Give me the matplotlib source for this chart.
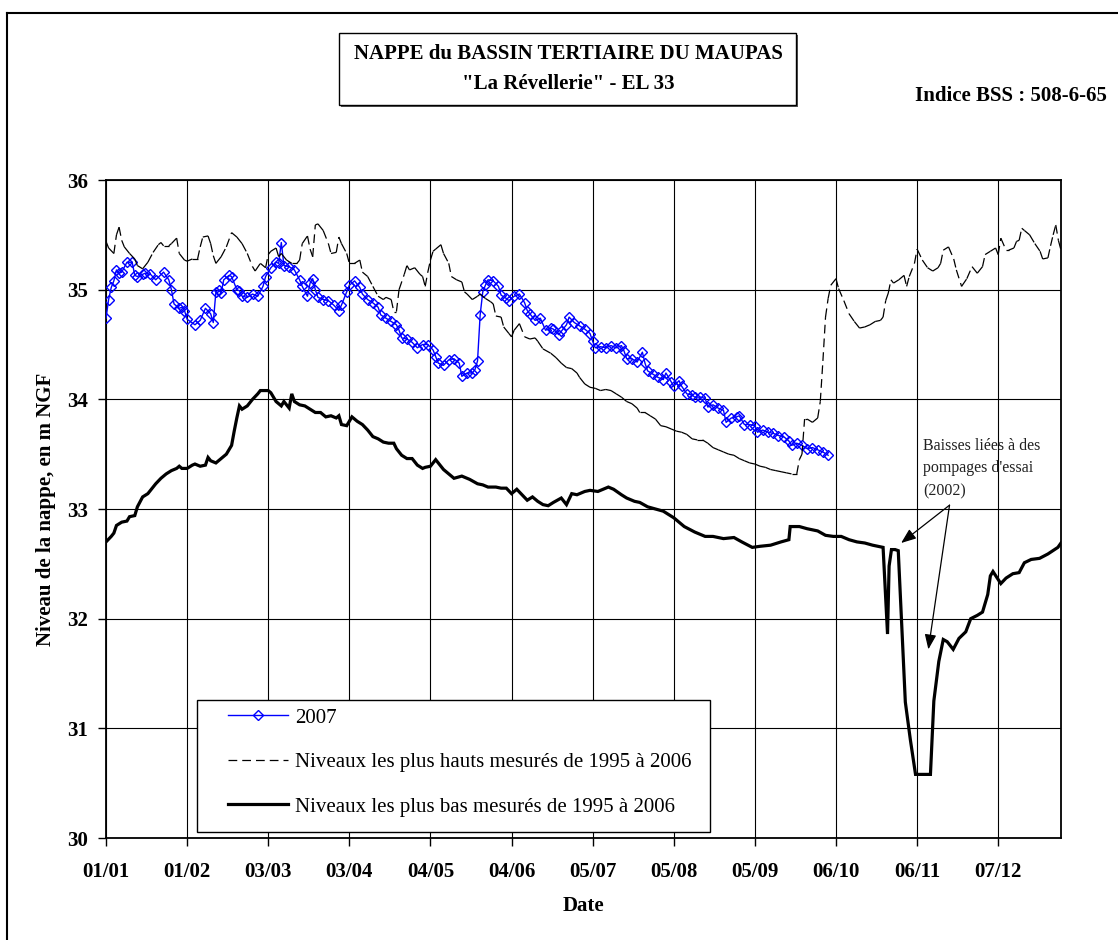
import numpy as np
import matplotlib
matplotlib.use("Agg")
import matplotlib.pyplot as plt
from matplotlib.collections import LineCollection
from matplotlib.lines import Line2D
from matplotlib.patches import Rectangle

plt.rcParams['font.family'] = 'Liberation Serif'

######### DATA #########
# jour de l'annee (annee bissextile, 0 = 01/01) et niveau en m NGF
tick_days = [0, 31, 62, 93, 124, 155, 186, 217, 248, 279, 310, 341]
tick_labels = ['01/01', '01/02', '03/03', '03/04', '04/05', '04/06',
               '05/07', '05/08', '05/09', '06/10', '06/11', '07/12']

days_2007 = [0, 1, 2, 3, 4, 5, 6, 8, 10, 11, 12, 14, 15, 17, 19, 22, 24, 25, 26, 28,
             29, 30, 31, 34, 36, 38, 40, 41, 42, 43, 44, 45, 47, 48, 50, 51, 52, 54, 56, 58,
             60, 61, 63, 65, 66, 67, 68, 70, 72, 74, 75, 77, 78, 79, 80, 81, 83, 85, 87, 89,
             90, 92, 93, 95, 97, 98, 100, 102, 104, 105, 107, 109, 111, 112, 113, 115, 117, 119, 121, 123,
             125, 126, 127, 129, 131, 133, 135, 136, 138, 140, 141, 142, 143, 144, 145, 146, 148, 150, 151, 153,
             154, 156, 158, 160, 161, 162, 164, 166, 168, 170, 171, 173, 174, 176, 177, 179, 181, 183, 185, 186,
             187, 189, 191, 193, 195, 197, 198, 199, 201, 203, 205, 206, 207, 209, 211, 213, 214, 216, 217, 219,
             220, 222, 224, 225, 227, 229, 230, 232, 234, 236, 237, 239, 241, 242, 244, 246, 248, 249, 251, 253,
             255, 257, 259, 261, 262, 264, 266, 268, 270, 272, 274, 276]
level_2007 = [34.74, 34.91, 35.02, 35.08, 35.18, 35.15, 35.16, 35.25, 35.25, 35.13, 35.12, 35.14, 35.15, 35.14, 35.09, 35.16, 35.09, 35.00, 34.87, 34.83,
              34.84, 34.81, 34.73, 34.68, 34.72, 34.83, 34.78, 34.70, 34.98, 35.00, 34.97, 35.09, 35.13, 35.12, 35.00, 34.99, 34.94, 34.93, 34.96, 34.94,
              35.03, 35.12, 35.20, 35.25, 35.24, 35.43, 35.22, 35.21, 35.18, 35.09, 35.03, 34.94, 35.06, 35.10, 35.00, 34.93, 34.91, 34.90, 34.86, 34.81,
              34.86, 34.98, 35.04, 35.08, 35.02, 34.96, 34.91, 34.88, 34.84, 34.77, 34.74, 34.71, 34.68, 34.63, 34.56, 34.55, 34.52, 34.47, 34.50, 34.50,
              34.45, 34.39, 34.33, 34.31, 34.36, 34.37, 34.33, 34.21, 34.24, 34.24, 34.27, 34.35, 34.77, 34.98, 35.04, 35.09, 35.08, 35.03, 34.95, 34.92,
              34.90, 34.94, 34.96, 34.88, 34.81, 34.78, 34.72, 34.74, 34.63, 34.65, 34.64, 34.59, 34.62, 34.68, 34.75, 34.70, 34.67, 34.64, 34.60, 34.53,
              34.47, 34.48, 34.47, 34.49, 34.47, 34.49, 34.44, 34.37, 34.37, 34.34, 34.43, 34.33, 34.26, 34.23, 34.20, 34.18, 34.24, 34.16, 34.12, 34.17,
              34.12, 34.05, 34.04, 34.02, 34.02, 34.01, 33.93, 33.95, 33.92, 33.90, 33.79, 33.83, 33.84, 33.85, 33.77, 33.77, 33.76, 33.70, 33.72, 33.70,
              33.69, 33.67, 33.66, 33.62, 33.58, 33.60, 33.58, 33.55, 33.56, 33.54, 33.52, 33.49]

days_max = [0, 1, 3, 4, 5, 6, 7, 9, 11, 12, 14, 16, 18, 20, 21, 22, 24, 25, 27, 28,
            30, 31, 33, 35, 36, 37, 39, 40, 41, 42, 44, 46, 48, 50, 52, 54, 56, 57, 59, 61,
            62, 63, 65, 66, 67, 69, 71, 73, 74, 75, 77, 78, 79, 80, 81, 83, 85, 86, 88, 89,
            90, 92, 93, 95, 97, 98, 100, 102, 104, 106, 107, 109, 110, 111, 112, 114, 115, 116, 118, 120,
            121, 122, 123, 124, 125, 126, 128, 129, 131, 132, 134, 136, 137, 138, 140, 142, 143, 145, 147, 148,
            149, 151, 152, 154, 155, 156, 158, 160, 162, 164, 165, 167, 170, 172, 174, 176, 178, 180, 181, 183,
            185, 187, 189, 191, 193, 195, 197, 199, 201, 203, 204, 206, 208, 210, 212, 214, 216, 218, 220, 222,
            224, 226, 228, 230, 232, 234, 236, 238, 240, 242, 244, 246, 248, 250, 252, 254, 256, 258, 260, 262,
            264, 265, 266, 267, 268, 270, 272, 273, 274, 275, 276, 277, 279, 280, 282, 284, 286, 288, 290, 292,
            294, 296, 297, 298, 299, 300, 301, 303, 305, 306, 307, 309, 310, 312, 314, 316, 318, 319, 320, 322,
            324, 325, 327, 329, 331, 333, 335, 336, 338, 340, 341, 342, 344, 345, 347, 348, 349, 350, 351, 353,
            355, 357, 358, 360, 361, 362, 363, 364, 365]
level_max = [35.44, 35.38, 35.33, 35.50, 35.57, 35.45, 35.39, 35.33, 35.28, 35.22, 35.19, 35.25, 35.34, 35.41, 35.43, 35.40, 35.40, 35.42, 35.47, 35.33,
             35.27, 35.26, 35.28, 35.28, 35.39, 35.48, 35.49, 35.42, 35.31, 35.24, 35.30, 35.39, 35.52, 35.48, 35.42, 35.33, 35.21, 35.17, 35.24, 35.20,
             35.32, 35.35, 35.38, 35.30, 35.33, 35.27, 35.24, 35.24, 35.27, 35.42, 35.49, 35.37, 35.30, 35.59, 35.60, 35.54, 35.42, 35.33, 35.34, 35.48,
             35.42, 35.33, 35.24, 35.24, 35.27, 35.16, 35.12, 35.03, 34.94, 34.91, 34.93, 34.91, 34.80, 34.80, 35.00, 35.14, 35.22, 35.18, 35.20, 35.14,
             35.12, 35.03, 35.16, 35.27, 35.35, 35.37, 35.41, 35.33, 35.24, 35.12, 35.09, 35.07, 34.98, 34.96, 34.91, 34.94, 34.96, 34.92, 34.89, 34.87,
             34.76, 34.75, 34.66, 34.60, 34.57, 34.63, 34.69, 34.57, 34.55, 34.56, 34.53, 34.46, 34.42, 34.38, 34.33, 34.29, 34.28, 34.24, 34.20, 34.14,
             34.11, 34.10, 34.08, 34.09, 34.08, 34.05, 34.02, 33.98, 33.96, 33.92, 33.88, 33.88, 33.85, 33.82, 33.76, 33.75, 33.73, 33.71, 33.70, 33.68,
             33.64, 33.63, 33.63, 33.60, 33.56, 33.54, 33.52, 33.50, 33.49, 33.46, 33.44, 33.42, 33.41, 33.39, 33.38, 33.36, 33.35, 33.34, 33.33, 33.32,
             33.32, 33.45, 33.50, 33.82, 33.82, 33.79, 33.83, 33.98, 34.35, 34.75, 34.92, 35.04, 35.10, 35.01, 34.90, 34.78, 34.71, 34.65, 34.66, 34.68,
             34.71, 34.72, 34.75, 34.90, 34.97, 35.09, 35.06, 35.09, 35.13, 35.03, 35.12, 35.24, 35.37, 35.27, 35.20, 35.17, 35.20, 35.24, 35.36, 35.39,
             35.28, 35.18, 35.03, 35.10, 35.21, 35.15, 35.21, 35.32, 35.35, 35.38, 35.32, 35.47, 35.36, 35.36, 35.38, 35.44, 35.45, 35.56, 35.54, 35.50,
             35.42, 35.35, 35.28, 35.29, 35.40, 35.50, 35.59, 35.45, 35.36]

days_min = [0, 2, 3, 4, 6, 8, 9, 11, 12, 14, 16, 18, 19, 21, 23, 25, 27, 28, 29, 31,
            33, 34, 36, 38, 39, 40, 42, 44, 46, 48, 49, 50, 51, 52, 54, 56, 58, 59, 61, 62,
            63, 65, 67, 68, 69, 70, 71, 72, 74, 76, 78, 80, 82, 84, 86, 88, 89, 90, 92, 94,
            96, 98, 100, 102, 104, 106, 108, 110, 111, 113, 115, 117, 119, 121, 122, 124, 126, 129, 133, 136,
            139, 142, 144, 146, 149, 151, 153, 155, 157, 159, 161, 163, 165, 167, 169, 171, 174, 176, 178, 180,
            183, 185, 188, 192, 194, 197, 199, 202, 204, 207, 210, 213, 217, 221, 225, 229, 232, 236, 240, 243,
            247, 250, 254, 258, 261, 261.5, 265, 268, 272, 275, 278, 281, 284, 287, 290, 293, 295, 297, 298.7, 299.3,
            300.2, 301.6, 302.8, 305.5, 307.4, 309.4, 315.1, 316.4, 318.3, 320, 321.5, 323.8, 326, 328.6, 330.5, 333, 335, 337, 338, 339,
            342, 344, 346.6, 349, 351, 353.6, 356.8, 360, 363.8, 365]
level_min = [32.70, 32.75, 32.78, 32.85, 32.88, 32.89, 32.93, 32.94, 33.02, 33.11, 33.14, 33.20, 33.23, 33.28, 33.32, 33.35, 33.37, 33.39, 33.37, 33.37,
             33.40, 33.41, 33.39, 33.40, 33.47, 33.44, 33.42, 33.46, 33.50, 33.58, 33.71, 33.83, 33.94, 33.91, 33.94, 34.00, 34.05, 34.08, 34.08, 34.08,
             34.06, 33.98, 33.94, 33.98, 33.95, 33.92, 34.05, 33.98, 33.95, 33.94, 33.91, 33.88, 33.88, 33.84, 33.85, 33.83, 33.85, 33.77, 33.76, 33.84,
             33.80, 33.77, 33.72, 33.66, 33.64, 33.61, 33.60, 33.60, 33.55, 33.49, 33.46, 33.46, 33.40, 33.37, 33.38, 33.39, 33.45, 33.36, 33.28, 33.30,
             33.27, 33.23, 33.22, 33.20, 33.20, 33.19, 33.19, 33.14, 33.18, 33.13, 33.08, 33.11, 33.07, 33.04, 33.03, 33.06, 33.10, 33.04, 33.14, 33.13,
             33.16, 33.17, 33.16, 33.20, 33.18, 33.13, 33.10, 33.07, 33.06, 33.02, 33.00, 32.98, 32.92, 32.84, 32.79, 32.75, 32.75, 32.73, 32.74, 32.70,
             32.65, 32.66, 32.67, 32.70, 32.72, 32.84, 32.84, 32.82, 32.80, 32.76, 32.75, 32.75, 32.72, 32.70, 32.69, 32.67, 32.66, 32.65, 31.86, 32.48,
             32.63, 32.63, 32.62, 31.24, 30.90, 30.58, 30.58, 31.25, 31.61, 31.81, 31.79, 31.72, 31.82, 31.88, 32.00, 32.03, 32.06, 32.22, 32.39, 32.43,
             32.32, 32.37, 32.41, 32.42, 32.51, 32.54, 32.55, 32.59, 32.65, 32.69]

W, H = 1118, 940
fig = plt.figure(figsize=(W / 100, H / 100), dpi=100)
ax = fig.add_axes([106 / W, 1 - 838 / H, 955 / W, 658 / H])

# 2007
l2007, = ax.plot(days_2007, level_2007, color='#0000FF', lw=1.0, marker='D', ms=5,
                 mfc='none', mec='#0000FF', mew=1.0, zorder=3, label='2007')

# plus hauts : pointille qui recommence a chaque segment (comme Excel)
pts = np.column_stack([days_max, level_max])
segs = np.stack([pts[:-1], pts[1:]], axis=1)
lc = LineCollection(segs, colors='black', linewidths=0.9, linestyles=[(0, (7, 4))], zorder=4)
ax.add_collection(lc)

# plus bas
ax.plot(days_min, level_min, color='black', lw=2.3, zorder=5, solid_joinstyle='miter')

ax.set_xlim(0, 365)
ax.set_ylim(30, 36)
ax.set_xticks(tick_days)
ax.set_xticklabels(tick_labels)
ax.set_yticks(range(30, 37))
ax.grid(True, color='black', lw=0.8)
ax.set_axisbelow(True)
for s in ax.spines.values():
    s.set_linewidth(1.3)
ax.tick_params(direction='out', length=6, width=1.0, labelsize=15)
ax.tick_params(axis='x', pad=11)
ax.tick_params(axis='y', pad=7)
for lab in ax.get_xticklabels() + ax.get_yticklabels():
    lab.set_fontweight('bold')

# annotation pompages
ax.text(312.3, 33.37, "Baisses liées à des\npompages d'essai\n(2002)", fontsize=11.5,
        color='#222222', va='center', ha='left', linespacing=1.55)
for tip in [(303.9, 32.69), (314.3, 31.72)]:
    ax.annotate('', xy=tip, xytext=(322.4, 33.035),
                arrowprops=dict(arrowstyle='-|>,head_length=0.9,head_width=0.35',
                                color='black', lw=0.9, shrinkA=0, shrinkB=0))

# textes de la figure
fig.text(46 / W, 1 - 509 / H, 'Niveau de la nappe, en m NGF', rotation=90,
         ha='center', va='center', fontsize=15, fontweight='bold')
fig.text(583 / W, 1 - 906 / H, 'Date', ha='center', va='center', fontsize=15, fontweight='bold')
fig.text(915 / W, 1 - 96 / H, 'Indice BSS : 508-6-65', ha='left', va='center',
         fontsize=15, fontweight='bold')

# cadre du titre
fig.add_artist(Rectangle((341 / W, 1 - 107 / H), 457 / W, 72 / H, transform=fig.transFigure,
                         facecolor='#555555', edgecolor='none', zorder=1))
fig.add_artist(Rectangle((339 / W, 1 - 105 / H), 457 / W, 72 / H, transform=fig.transFigure,
                         facecolor='white', edgecolor='black', lw=1.0, zorder=2))
fig.text(568 / W, 1 - 54 / H, 'NAPPE du BASSIN TERTIAIRE DU MAUPAS', ha='center', va='center',
         fontsize=15, fontweight='bold', zorder=3)
fig.text(568 / W, 1 - 84 / H, '"La Révellerie" - EL 33', ha='center', va='center',
         fontsize=15, fontweight='bold', zorder=3)

# cadre general
fig.add_artist(Line2D([7 / W, 7 / W], [0, 1 - 13 / H], transform=fig.transFigure, color='black', lw=1.5))
fig.add_artist(Line2D([7 / W, 1], [1 - 13 / H, 1 - 13 / H], transform=fig.transFigure, color='black', lw=1.5))

# legende
fig.add_artist(Rectangle((197 / W, 1 - 832 / H), 513 / W, 132 / H, transform=fig.transFigure,
                         facecolor='white', edgecolor='black', lw=1.0, zorder=6))
h_max = Line2D([], [], color='black', lw=0.9, ls=(0, (7, 4)))
h_min = Line2D([], [], color='black', lw=2.3)
leg = fig.legend([l2007, h_max, h_min],
                 ['2007', 'Niveaux les plus hauts mesurés de 1995 à 2006',
                  'Niveaux les plus bas mesurés de 1995 à 2006'],
                 loc='upper left', bbox_to_anchor=(228 / W, 1 - 708 / H), frameon=False,
                 fontsize=15, borderpad=0, borderaxespad=0, handlelength=2.9,
                 handletextpad=0.3, labelspacing=1.2)
leg.set_zorder(7)

fig.savefig('out.png', dpi=100)
